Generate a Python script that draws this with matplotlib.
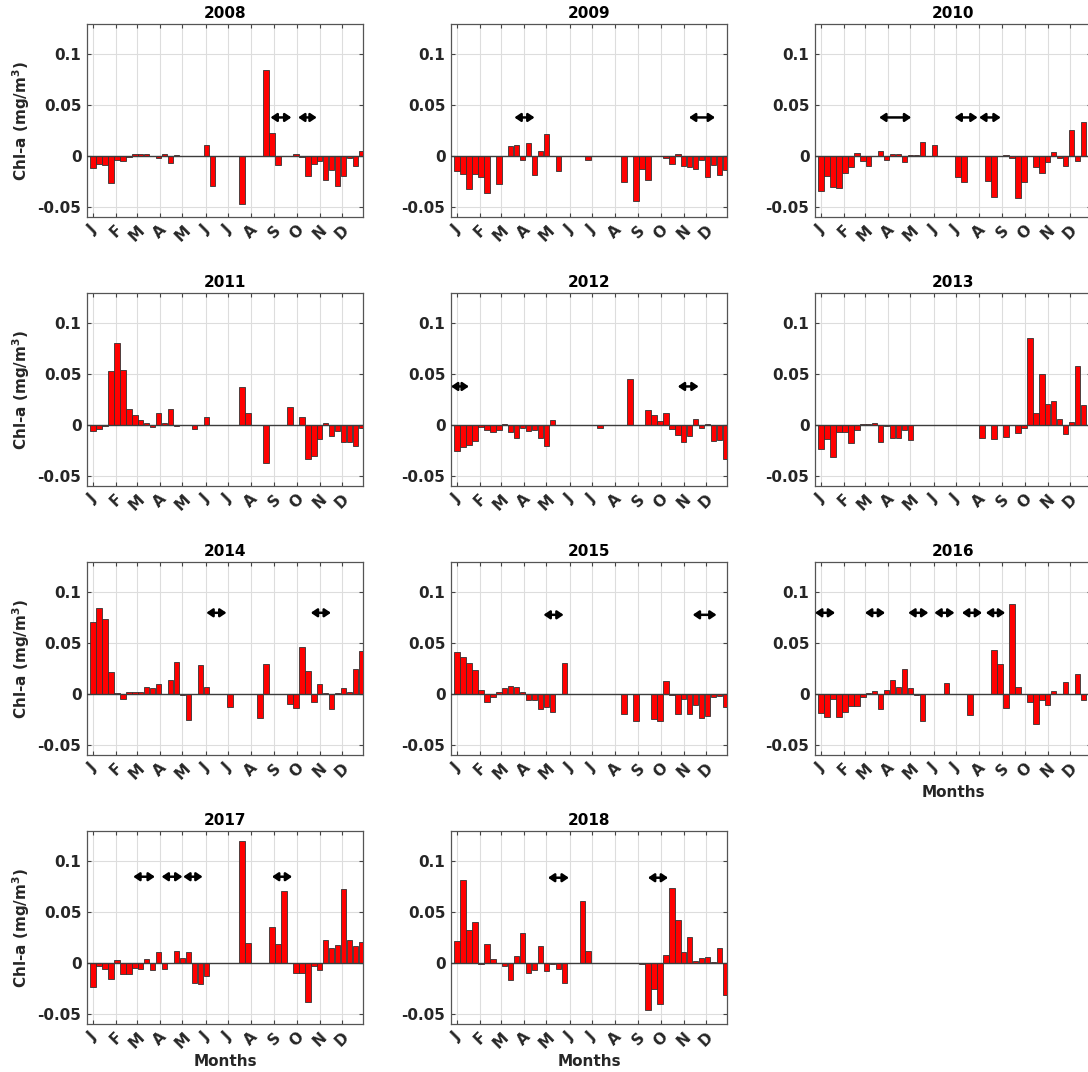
import numpy as np
import matplotlib.pyplot as plt

nan = np.nan

# 8-day composite anomalies of Chl-a, 46 composites per year (nan = no data)
years = [2008, 2009, 2010, 2011, 2012, 2013, 2014, 2015, 2016, 2017, 2018]
month_labels = ['J', 'F', 'M', 'A', 'M', 'J', 'J', 'A', 'S', 'O', 'N', 'D']
month_start_days = [1, 32, 60, 91, 121, 152, 182, 213, 244, 274, 305, 335]
composite_days = 1 + 8 * np.arange(46)

chl_2008 = [-0.012, -0.008, -0.009, -0.027, -0.004, -0.005, -0.001, 0.002, 0.002, 0.002,
            0.0005, -0.002, 0.002, -0.007, 0.001, nan, nan, nan, nan, 0.011,
            -0.029, nan, nan, nan, nan, -0.047, nan, nan, nan, 0.085,
            0.023, -0.009, nan, nan, 0.002, -0.001, -0.020, -0.008, -0.005, -0.024,
            -0.014, -0.029, -0.020, -0.002, -0.010, 0.005]
chl_2009 = [-0.015, -0.018, -0.032, -0.018, -0.021, -0.036, nan, -0.028, nan, 0.010,
            0.011, -0.004, 0.0125, -0.019, 0.005, 0.022, nan, -0.015, nan, nan,
            nan, nan, -0.004, nan, nan, nan, nan, nan, -0.026, nan,
            -0.044, -0.013, -0.024, nan, nan, -0.002, -0.0075, 0.002, -0.010, -0.011,
            -0.0125, -0.004, -0.021, -0.009, -0.019, -0.0135]
chl_2010 = [-0.034, -0.020, -0.030, -0.031, -0.017, -0.011, 0.003, -0.005, -0.010, nan,
            0.0045, -0.0035, 0.002, 0.0025, -0.006, 0.0007, 0.0015, 0.014, nan, 0.011,
            nan, nan, nan, -0.021, -0.026, nan, nan, nan, -0.025, -0.040,
            nan, 0.0006, -0.002, -0.041, -0.026, nan, -0.011, -0.017, -0.006, 0.0035,
            -0.002, -0.010, 0.026, -0.0045, 0.0335, nan]
chl_2011 = [-0.006, -0.004, -0.0007, 0.053, 0.081, 0.0545, 0.0155, 0.010, 0.0045, 0.002,
            -0.002, 0.012, 0.002, 0.016, -0.0006, nan, nan, -0.004, nan, 0.008,
            nan, nan, nan, nan, nan, 0.037, 0.0115, nan, nan, -0.037,
            nan, nan, nan, 0.018, nan, 0.0075, -0.0335, -0.030, -0.014, 0.0025,
            -0.011, -0.006, -0.0165, -0.0165, -0.021, -0.003]
chl_2012 = [-0.026, -0.022, -0.020, -0.016, -0.0015, -0.005, -0.007, -0.005, 0.001, -0.007,
            -0.013, -0.003, -0.006, -0.005, -0.013, -0.021, 0.0045, nan, nan, nan,
            nan, nan, nan, nan, -0.003, nan, nan, nan, nan, 0.045,
            nan, nan, 0.0145, 0.010, 0.004, 0.012, -0.004, -0.010, -0.017, -0.011,
            0.0055, -0.003, 0.001, -0.016, -0.015, -0.0335]
chl_2013 = [-0.024, -0.014, -0.031, -0.007, -0.007, -0.0175, -0.005, 0.0007, 0.0007, 0.002,
            -0.017, -0.0007, -0.013, -0.013, -0.005, -0.0145, nan, nan, nan, nan,
            nan, nan, nan, nan, nan, nan, nan, -0.013, nan, -0.014,
            nan, -0.0115, nan, -0.008, -0.003, 0.086, 0.0115, 0.050, 0.021, 0.024,
            0.0055, -0.009, 0.003, 0.0585, 0.020, nan]
chl_2014 = [0.071, 0.085, 0.0735, 0.0215, 0.0015, -0.005, 0.002, 0.002, 0.002, 0.007,
            0.006, 0.0095, nan, 0.0135, 0.0315, -0.001, -0.026, nan, 0.029, 0.007,
            nan, nan, nan, -0.0125, nan, nan, nan, nan, -0.024, 0.0295,
            nan, nan, nan, -0.010, -0.014, 0.046, 0.023, -0.0075, 0.010, 0.0007,
            -0.0145, 0.0015, 0.0055, 0.0025, 0.025, 0.0425]
chl_2015 = [0.041, 0.036, 0.031, 0.0235, 0.004, -0.008, -0.0025, 0.0025, 0.006, 0.008,
            0.007, 0.002, -0.006, -0.006, -0.0145, -0.0125, -0.018, nan, 0.031, nan,
            nan, nan, nan, nan, nan, nan, nan, nan, -0.020, nan,
            -0.027, nan, nan, -0.025, -0.027, 0.013, -0.0007, -0.020, -0.0045, -0.020,
            -0.011, -0.024, -0.022, -0.003, -0.0015, -0.0125]
chl_2016 = [-0.019, -0.023, -0.0045, -0.023, -0.0175, -0.0115, -0.012, -0.0025, 0.0007, 0.003,
            -0.015, 0.0035, 0.014, 0.0065, 0.025, 0.006, -0.001, -0.027, nan, nan,
            nan, 0.011, nan, nan, nan, -0.021, nan, nan, nan, 0.0435,
            0.030, -0.014, 0.089, 0.007, nan, -0.008, -0.029, -0.006, -0.0105, 0.003,
            nan, 0.012, 0.0005, 0.020, -0.006, nan]
chl_2017 = [-0.0235, -0.0025, -0.006, -0.016, 0.003, -0.0105, -0.0105, -0.005, -0.0055, 0.0035,
            -0.007, 0.011, -0.0055, nan, 0.012, 0.0045, 0.011, -0.020, -0.021, -0.0125,
            nan, nan, nan, nan, nan, 0.120, 0.020, nan, nan, nan,
            0.035, 0.019, 0.071, nan, -0.010, -0.010, -0.0385, -0.003, -0.007, 0.0225,
            0.015, 0.0175, 0.073, 0.0225, 0.0165, 0.0205]
chl_2018 = [0.0215, 0.082, 0.033, 0.040, -0.0007, 0.0185, 0.004, 0.0005, -0.003, -0.017,
            0.007, 0.030, -0.010, -0.007, 0.017, -0.008, -0.0007, -0.006, -0.020, nan,
            nan, 0.061, 0.012, nan, nan, nan, nan, nan, nan, nan,
            nan, -0.001, -0.046, -0.0255, -0.040, 0.0075, 0.074, 0.042, 0.0105, 0.026,
            0.0023, 0.005, 0.006, 0.001, 0.0145, -0.031]

# event periods (start day, end day) drawn as double arrows, and their height
arrows_2008 = [(239, 267), (276, 301)]
arrows_2009 = [(78, 105), (312, 347)]
arrows_2010 = [(79, 122), (180, 211), (213, 242)]
arrows_2012 = [(-7, 17), (297, 325)]
arrows_2014 = [(153, 180), (293, 320)]
arrows_2015 = [(117, 144), (317, 349)]
arrows_2016 = [(-7, 20), (60, 87), (118, 145), (153, 180), (190, 217), (222, 248)]
arrows_2017 = [(55, 84), (93, 121), (122, 148), (241, 268)]
arrows_2018 = [(123, 151), (257, 284)]
arrow_height = {2008: 0.038, 2009: 0.038, 2010: 0.038, 2012: 0.038,
                2014: 0.080, 2015: 0.078, 2016: 0.080, 2017: 0.085, 2018: 0.084}

chl = {2008: chl_2008, 2009: chl_2009, 2010: chl_2010, 2011: chl_2011,
       2012: chl_2012, 2013: chl_2013, 2014: chl_2014, 2015: chl_2015,
       2016: chl_2016, 2017: chl_2017, 2018: chl_2018}
arrows = {2008: arrows_2008, 2009: arrows_2009, 2010: arrows_2010, 2011: [],
          2012: arrows_2012, 2013: [], 2014: arrows_2014, 2015: arrows_2015,
          2016: arrows_2016, 2017: arrows_2017, 2018: arrows_2018}

W, H = 1088, 1072
fig = plt.figure(figsize=(W / 100, H / 100), dpi=100)

col_left = [87, 451, 815]
row_top = [24, 293, 562, 831]
ax_w, ax_h = 276, 193
txt = '#262626'

for k, yr in enumerate(years):
    r, c = divmod(k, 3)
    ax = fig.add_axes([col_left[c] / W, 1 - (row_top[r] + ax_h) / H, ax_w / W, ax_h / H])
    vals = np.array(chl[yr], dtype=float)
    ok = ~np.isnan(vals)
    ax.bar(composite_days[ok], vals[ok], width=7.4, color='#ff0000',
           edgecolor='#333333', linewidth=0.6, zorder=3)
    ax.axhline(0, color='#3c3c3c', lw=1.0, zorder=4)

    # double arrows marking the event periods
    for x0, x1 in arrows[yr]:
        ax.annotate('', xy=(x1, arrow_height[yr]), xytext=(x0, arrow_height[yr]),
                    arrowprops=dict(arrowstyle='<|-|>,head_length=0.4,head_width=0.27',
                                    color='k', lw=1.8, shrinkA=0, shrinkB=0,
                                    mutation_scale=9),
                    zorder=5)

    ax.set_xlim(-7, 363)
    ax.set_ylim(-0.06, 0.13)
    ax.set_xticks(month_start_days)
    ax.set_xticklabels(month_labels, rotation=45, fontweight='bold', fontsize=11, color=txt)
    ax.set_yticks([-0.05, 0, 0.05, 0.1])
    ax.set_yticklabels(['-0.05', '0', '0.05', '0.1'], fontweight='bold', fontsize=11, color=txt)
    ax.tick_params(direction='in', length=3, top=True, right=True, color='#444444', pad=4)
    ax.grid(True, color='#dddddd', lw=0.8)
    ax.set_axisbelow(True)
    for s in ax.spines.values():
        s.set_color('#555555')
        s.set_linewidth(0.9)

    ax.set_title(str(yr), fontweight='bold', fontsize=11, pad=4)
    if c == 0:
        ax.set_ylabel(r'Chl-a (mg/m$^{\mathbf{3}}$)', fontweight='bold', fontsize=11, color=txt)
    if yr in (2016, 2017, 2018):
        ax.set_xlabel('Months', fontweight='bold', fontsize=11, color=txt, labelpad=2)

fig.savefig('out.png', dpi=100)
